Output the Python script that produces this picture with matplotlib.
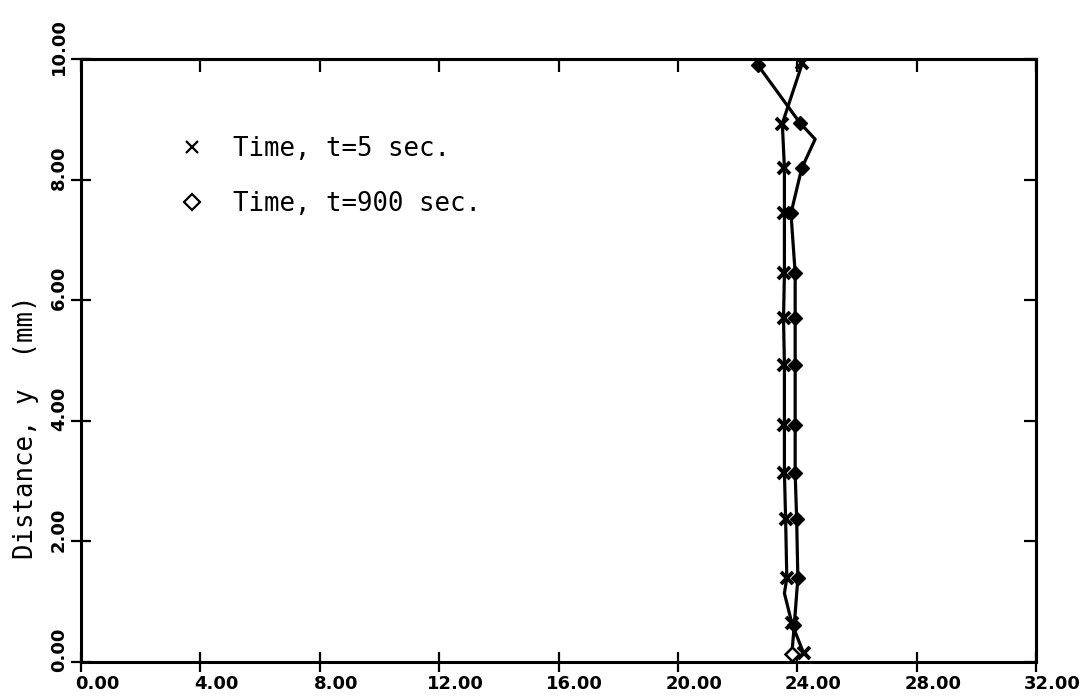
import matplotlib
matplotlib.use("Agg")
import matplotlib.pyplot as plt
from matplotlib.lines import Line2D
from matplotlib.transforms import ScaledTranslation

# Temperature profiles across the layer at two times
y_t5 = [9.93, 8.93, 8.19, 7.44, 6.45, 5.70, 4.93, 3.93, 3.14, 2.37, 1.39, 1.14, 0.64, 0.15]
x_t5 = [24.17, 23.50, 23.57, 23.57, 23.57, 23.54, 23.57, 23.57, 23.57, 23.61, 23.65, 23.57, 23.82, 24.21]
marked_t5 = [0, 1, 2, 3, 4, 5, 6, 7, 8, 9, 10, 12, 13]

y_t900 = [9.90, 8.94, 8.67, 8.19, 7.44, 6.45, 5.70, 4.93, 3.93, 3.14, 2.37, 1.39, 0.61, 0.14]
x_t900 = [22.68, 24.09, 24.60, 24.15, 23.79, 23.93, 23.93, 23.93, 23.93, 23.93, 23.98, 24.02, 23.90, 23.82]
marked_t900 = [0, 1, 3, 4, 5, 6, 7, 8, 9, 10, 11, 12]

x_ticks = [0, 4, 8, 12, 16, 20, 24, 28, 32]
x_tick_labels = ["0.00", "4.00", "8.00", "12.00", "16.00", "20.00", "24.00", "28.00", "32.00"]
y_ticks = [0, 2, 4, 6, 8, 10]
y_tick_labels = ["0.00", "2.00", "4.00", "6.00", "8.00", "10.00"]

legend_labels = ["Time, t=5 sec.", "Time, t=900 sec."]
y_label = "Distance, y  (mm)"

W, H, DPI = 1092, 696, 100
fig = plt.figure(figsize=(W / DPI, H / DPI), dpi=DPI)
ax = fig.add_axes([81 / W, 34 / H, 955 / W, 603 / H])

mono = "DejaVu Sans Mono"
lw = 2.3

ax.plot(x_t5, y_t5, color="black", lw=lw, marker="x", ms=9, mew=2.8,
        markevery=marked_t5, zorder=3)
ax.plot(x_t900, y_t900, color="black", lw=lw, marker="D", ms=7.5,
        mfc="black", mec="black", markevery=marked_t900, zorder=3)
# last t=900 point drawn with an open symbol
ax.plot(x_t900[-1:], y_t900[-1:], ls="none", marker="D", ms=7.5,
        mfc="white", mec="black", mew=1.8, zorder=4)

ax.set_xlim(0, 32)
ax.set_ylim(0, 10)

for s in ax.spines.values():
    s.set_linewidth(2.2)

ax.set_xticks(x_ticks)
ax.set_xticklabels(x_tick_labels, fontsize=13, fontweight="bold")
ax.set_yticks(y_ticks)
ax.set_yticklabels(y_tick_labels, fontsize=13, fontweight="bold",
                   rotation=90, va="center")
ax.tick_params(direction="inout", length=14, width=1.6, pad=2.5)

dx = ScaledTranslation(16 / DPI, 0, fig.dpi_scale_trans)
for lab in ax.get_xticklabels():
    lab.set_transform(lab.get_transform() + dx)
dy = ScaledTranslation(0, 12 / DPI, fig.dpi_scale_trans)
for lab in ax.get_yticklabels():
    lab.set_transform(lab.get_transform() + dy)

# inward ticks on the top and right frame
secx = ax.secondary_xaxis("top")
secx.set_xticks(x_ticks)
secx.tick_params(direction="in", length=9, width=1.6, labeltop=False)
secx.spines["top"].set_linewidth(2.2)
secy = ax.secondary_yaxis("right")
secy.set_yticks(y_ticks)
secy.tick_params(direction="in", length=9, width=1.6, labelright=False)
secy.spines["right"].set_linewidth(2.2)

ax.set_ylabel(y_label, fontsize=18.5, family=mono)
ax.yaxis.set_label_coords(-0.058, 0.39)
ax.yaxis.label.set_va("center")

handles = [
    Line2D([], [], ls="none", marker="x", ms=8, mew=1.6, color="black"),
    Line2D([], [], ls="none", marker="D", ms=8.5, mfc="white", mec="black", mew=1.6),
]
ax.legend(handles, legend_labels, loc="upper left", bbox_to_anchor=(0.103, 0.873),
          frameon=False, prop={"family": mono, "size": 18.5}, handlelength=1.0,
          handletextpad=1.1, labelspacing=1.15, borderpad=0, borderaxespad=0)

fig.savefig("out.png", dpi=DPI)
